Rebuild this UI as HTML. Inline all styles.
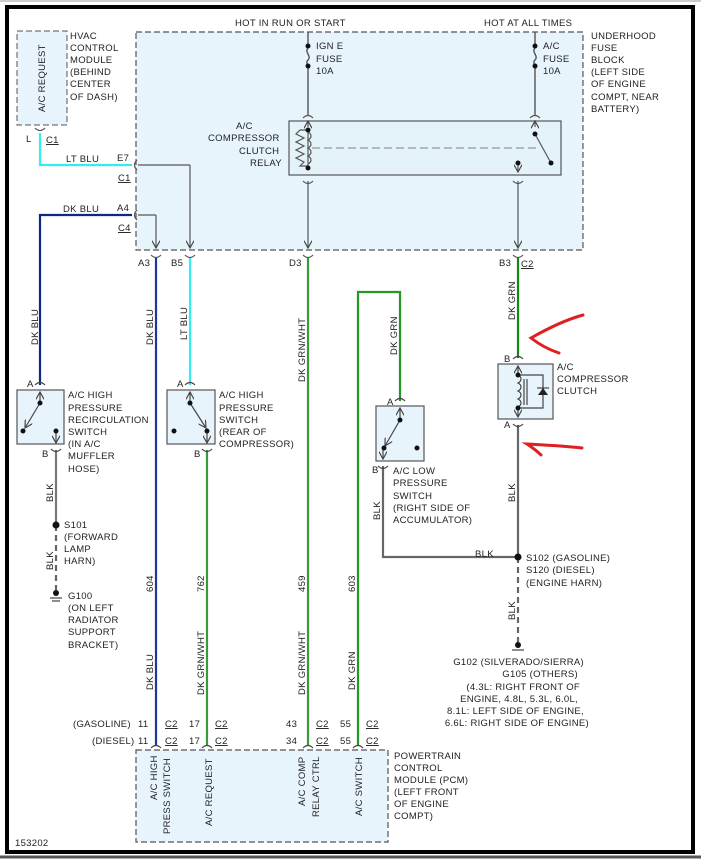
<!DOCTYPE html>
<html><head><meta charset="utf-8"><style>
html,body{margin:0;padding:0;background:#fff}
svg{display:block}
text{font-family:"Liberation Sans",sans-serif;font-size:9.5px;fill:#222;letter-spacing:0.3px}
</style></head><body>
<svg width="701" height="859" viewBox="0 0 701 859" xmlns="http://www.w3.org/2000/svg">
<defs>
<marker id="ar" viewBox="0 0 10 10" refX="9" refY="5" markerWidth="7" markerHeight="7" orient="auto"><path d="M0,0 L9,5 L0,10" fill="none" stroke="#444" stroke-width="1.4"/></marker>
</defs>
<line x1="0" y1="1" x2="701" y2="1" stroke="#ccc" stroke-width="2"/>
<rect x="7" y="7" width="686" height="845" fill="#fff" stroke="#000" stroke-width="4"/>
<line x1="0" y1="857" x2="701" y2="857" stroke="#555" stroke-width="3"/>

<!-- HVAC -->
<rect x="17" y="31" width="50" height="94" fill="#e8f4fb" stroke="#555" stroke-dasharray="6,3"/>
<text transform="translate(45,112) rotate(-90)">A/C REQUEST</text>
<text x="70" y="39">HVAC</text><text x="70" y="51">CONTROL</text><text x="70" y="63">MODULE</text><text x="70" y="75">(BEHIND</text><text x="70" y="87">CENTER</text><text x="70" y="100">OF DASH)</text>
<text x="26" y="142">L</text><text x="46" y="143" text-decoration="underline">C1</text>
<path d="M35,128 q5,5 10,0" fill="none" stroke="#444"/>

<!-- Fuse block -->
<rect x="136" y="32" width="447" height="218" fill="#e8f4fb" stroke="#555" stroke-width="1.2" stroke-dasharray="6,3"/>
<text x="235" y="26">HOT IN RUN OR START</text>
<text x="484" y="26">HOT AT ALL TIMES</text>
<text x="591" y="39">UNDERHOOD</text><text x="591" y="51">FUSE</text><text x="591" y="63">BLOCK</text><text x="591" y="75">(LEFT SIDE</text><text x="591" y="87">OF ENGINE</text><text x="591" y="100">COMPT, NEAR</text><text x="591" y="112">BATTERY)</text>
<!-- fuses -->
<g stroke="#555" stroke-width="1.4" fill="none">
<line x1="308" y1="32" x2="308" y2="45"/><path d="M308,48 c-4,4 4,8 0,12 c-4,4 4,8 0,8"/><line x1="308" y1="67" x2="308" y2="116"/>
<line x1="535" y1="32" x2="535" y2="45"/><path d="M535,48 c-4,4 4,8 0,12 c-4,4 4,8 0,8"/><line x1="535" y1="67" x2="535" y2="116"/>
</g>
<circle cx="308" cy="46" r="2.5" fill="#111"/><circle cx="308" cy="66" r="2.5" fill="#111"/>
<circle cx="535" cy="46" r="2.5" fill="#111"/><circle cx="535" cy="66" r="2.5" fill="#111"/>
<text x="316" y="49">IGN E</text><text x="316" y="62">FUSE</text><text x="316" y="74">10A</text>
<text x="543" y="49">A/C</text><text x="543" y="62">FUSE</text><text x="543" y="74">10A</text>
<!-- relay -->
<rect x="289" y="121" width="272" height="54" fill="#e4f2fa" stroke="#555" stroke-width="1.2"/>
<text x="236" y="129" text-anchor="start">A/C</text>
<text x="208" y="141">COMPRESSOR</text><text x="239" y="154">CLUTCH</text><text x="250" y="166">RELAY</text>
<g stroke="#555" stroke-width="1.2" fill="none">
<path d="M303,118 q5,-5 10,0"/><path d="M303,181 q5,5 10,0"/>
<path d="M530,118 q5,-5 10,0"/><path d="M513,181 q5,5 10,0"/>
<line x1="308" y1="130" x2="308" y2="168"/>
<path d="M308,130 h-8 l-4,4 l8,4 l-8,4 l8,4 l-8,4 l8,4 l-8,4 l8,4 l-4,4 h8"/>
<path d="M308,132 c4,2 4,6 0,8 c4,2 4,6 0,8 c4,2 4,6 0,8 c4,2 4,6 0,8"/>
<line x1="312" y1="148" x2="540" y2="148" stroke-dasharray="8,4" stroke="#999"/>
<line x1="535" y1="134" x2="551" y2="163"/>
<line x1="308" y1="181" x2="308" y2="248" marker-end="url(#ar)"/>
<line x1="518" y1="181" x2="518" y2="248" marker-end="url(#ar)"/>
<line x1="518" y1="165" x2="518" y2="172" marker-end="url(#ar)"/>
<line x1="308" y1="127" x2="308" y2="121" marker-end="url(#ar)"/>
<line x1="535" y1="127" x2="535" y2="121" marker-end="url(#ar)"/>
</g>
<circle cx="308" cy="130" r="2.5" fill="#111"/><circle cx="308" cy="168" r="2.5" fill="#111"/>
<circle cx="535" cy="134" r="2.5" fill="#111"/><circle cx="551" cy="163" r="2.5" fill="#111"/><circle cx="518" cy="163" r="2.5" fill="#111"/>
<!-- internal connectors -->
<g stroke="#555" stroke-width="1.2" fill="none">
<line x1="138" y1="165" x2="190" y2="165"/><line x1="190" y1="165" x2="190" y2="248" marker-end="url(#ar)"/>
<line x1="138" y1="215" x2="156" y2="215"/><line x1="156" y1="215" x2="156" y2="248" marker-end="url(#ar)"/>
<path d="M137,160 q-5,5 0,10"/><path d="M137,210 q-5,5 0,10"/>
<path d="M151,255 q5,5 10,0"/><path d="M185,255 q5,5 10,0"/><path d="M303,255 q5,5 10,0"/><path d="M513,255 q5,5 10,0"/>
</g>
<text x="117" y="161">E7</text><text x="118" y="181" text-decoration="underline">C1</text>
<text x="117" y="211">A4</text><text x="118" y="231" text-decoration="underline">C4</text>
<text x="66" y="162">LT BLU</text><text x="63" y="212">DK BLU</text>
<text x="138" y="266">A3</text><text x="171" y="266">B5</text><text x="289" y="266">D3</text><text x="499" y="266">B3</text><text x="521" y="267" text-decoration="underline">C2</text>

<!-- wires -->
<g fill="none" stroke-width="2.2">
<path d="M40,133 V165 H132" stroke="#33eeee"/>
<path d="M40,385 V215 H132" stroke="#0a2a88"/>
<line x1="156" y1="258" x2="156" y2="745" stroke="#1a3a9a"/>
<line x1="190" y1="258" x2="190" y2="385" stroke="#33eeee"/>
<line x1="207" y1="450" x2="207" y2="745" stroke="#3a9a3a"/>
<line x1="308" y1="258" x2="308" y2="745" stroke="#3a9a3a"/>
<path d="M358,745 V292 H400 V401" stroke="#229922"/>
<line x1="518" y1="258" x2="518" y2="358" stroke="#118811"/>
<path d="M56,450 V525" stroke="#777"/>
<path d="M383,466 V557 H518" stroke="#666"/>
<path d="M518,425 V557" stroke="#666"/>
<path d="M56,525 V590" stroke="#666" stroke-dasharray="6,4"/>
<path d="M518,557 V645" stroke="#666" stroke-dasharray="6,4"/>
</g>
<g font-size="9">
<text transform="translate(38,345) rotate(-90)">DK BLU</text>
<text transform="translate(153,345) rotate(-90)">DK BLU</text>
<text transform="translate(187,340) rotate(-90)">LT BLU</text>
<text transform="translate(305,382) rotate(-90)">DK GRN/WHT</text>
<text transform="translate(397,355) rotate(-90)">DK GRN</text>
<text transform="translate(515,320) rotate(-90)">DK GRN</text>
<text transform="translate(53,502) rotate(-90)">BLK</text>
<text transform="translate(53,570) rotate(-90)">BLK</text>
<text transform="translate(380,520) rotate(-90)">BLK</text>
<text transform="translate(515,502) rotate(-90)">BLK</text>
<text transform="translate(515,620) rotate(-90)">BLK</text>
<text transform="translate(153,592) rotate(-90)">604</text>
<text transform="translate(204,592) rotate(-90)">762</text>
<text transform="translate(305,592) rotate(-90)">459</text>
<text transform="translate(355,592) rotate(-90)">603</text>
<text transform="translate(153,690) rotate(-90)">DK BLU</text>
<text transform="translate(204,695) rotate(-90)">DK GRN/WHT</text>
<text transform="translate(305,695) rotate(-90)">DK GRN/WHT</text>
<text transform="translate(355,690) rotate(-90)">DK GRN</text>
</g>
<text x="475" y="557">BLK</text>

<!-- switch boxes -->
<g stroke="#555" stroke-width="1.2">
<rect x="17" y="390" width="47" height="54" fill="#e8f4fb"/>
<rect x="167" y="390" width="48" height="54" fill="#e8f4fb"/>
<rect x="376" y="406" width="48" height="55" fill="#e8f4fb"/>
<rect x="498" y="364" width="55" height="55" fill="#e8f4fb"/>
</g>
<g stroke="#444" stroke-width="1.2" fill="none">
<path d="M35,385 q5,-5 10,0"/><path d="M51,449 q5,5 10,0"/>
<path d="M185,385 q5,-5 10,0"/><path d="M202,449 q5,5 10,0"/>
<path d="M395,401 q5,-5 10,0"/><path d="M378,466 q5,5 10,0"/>
<path d="M513,359 q5,-5 10,0"/><path d="M513,424 q5,5 10,0"/>
<line x1="40" y1="403" x2="40" y2="392" marker-end="url(#ar)"/><line x1="40" y1="403" x2="25" y2="428" marker-end="url(#ar)"/>
<line x1="56" y1="431" x2="56" y2="443" marker-end="url(#ar)"/>
<line x1="190" y1="403" x2="190" y2="392" marker-end="url(#ar)"/><line x1="190" y1="403" x2="206" y2="428" marker-end="url(#ar)"/>
<line x1="207" y1="431" x2="207" y2="443" marker-end="url(#ar)"/>
<line x1="400" y1="420" x2="400" y2="408" marker-end="url(#ar)"/><line x1="400" y1="420" x2="385" y2="446" marker-end="url(#ar)"/>
<line x1="383" y1="448" x2="383" y2="459" marker-end="url(#ar)"/>
<line x1="518" y1="375" x2="518" y2="366" marker-end="url(#ar)"/><line x1="518" y1="408" x2="518" y2="417" marker-end="url(#ar)"/>
<path d="M518,375 c4,2 4,6 0,8 c4,2 4,6 0,8 c4,2 4,6 0,8 c4,2 4,6 0,8"/>
<line x1="524" y1="379" x2="524" y2="405"/><line x1="527" y1="379" x2="527" y2="405"/>
<path d="M518,375 H543 V408 H518"/>
</g>
<path d="M538,395 h10 l-5,-7 z" fill="#222"/><line x1="537" y1="388" x2="549" y2="388" stroke="#222"/>
<g fill="#111">
<circle cx="40" cy="403" r="2.5"/><circle cx="23" cy="431" r="2.5"/><circle cx="56" cy="431" r="2.5"/>
<circle cx="190" cy="403" r="2.5"/><circle cx="174" cy="431" r="2.5"/><circle cx="207" cy="431" r="2.5"/>
<circle cx="400" cy="420" r="2.5"/><circle cx="384" cy="448" r="2.5"/><circle cx="417" cy="448" r="2.5"/>
<circle cx="518" cy="375" r="2.5"/><circle cx="518" cy="408" r="2.5"/>
<circle cx="56" cy="525" r="3.5"/><circle cx="518" cy="557" r="3.5"/><circle cx="56" cy="593" r="3"/><circle cx="518" cy="645" r="3"/>
</g>
<g stroke="#444" stroke-width="1.2"><line x1="50" y1="598" x2="62" y2="598"/><line x1="52" y1="601" x2="60" y2="601"/><line x1="512" y1="650" x2="524" y2="650"/></g>
<text x="27" y="387">A</text><text x="42" y="457">B</text>
<text x="177" y="387">A</text><text x="194" y="457">B</text>
<text x="387" y="405">A</text><text x="372" y="473">B</text>
<text x="504" y="362">B</text><text x="504" y="428">A</text>
<text x="68" y="398">A/C HIGH</text><text x="68" y="411">PRESSURE</text><text x="68" y="423">RECIRCULATION</text><text x="68" y="435">SWITCH</text><text x="68" y="447">(IN A/C</text><text x="68" y="459">MUFFLER</text><text x="68" y="472">HOSE)</text>
<text x="219" y="398">A/C HIGH</text><text x="219" y="411">PRESSURE</text><text x="219" y="423">SWITCH</text><text x="219" y="435">(REAR OF</text><text x="219" y="447">COMPRESSOR)</text>
<text x="393" y="474">A/C LOW</text><text x="393" y="486">PRESSURE</text><text x="393" y="499">SWITCH</text><text x="393" y="511">(RIGHT SIDE OF</text><text x="393" y="523">ACCUMULATOR)</text>
<text x="557" y="370">A/C</text><text x="557" y="382">COMPRESSOR</text><text x="557" y="394">CLUTCH</text>
<text x="64" y="528">S101</text><text x="64" y="540">(FORWARD</text><text x="64" y="552">LAMP</text><text x="64" y="564">HARN)</text>
<text x="68" y="599">G100</text><text x="68" y="611">(ON LEFT</text><text x="68" y="623">RADIATOR</text><text x="68" y="635">SUPPORT</text><text x="68" y="648">BRACKET)</text>
<text x="526" y="561">S102 (GASOLINE)</text><text x="526" y="573">S120 (DIESEL)</text><text x="526" y="586">(ENGINE HARN)</text>
<g text-anchor="end"><text x="584" y="665">G102 (SILVERADO/SIERRA)</text><text x="578" y="677">G105 (OTHERS)</text><text x="580" y="690">(4.3L: RIGHT FRONT OF</text><text x="578" y="702">ENGINE, 4.8L, 5.3L, 6.0L,</text><text x="584" y="714">8.1L: LEFT SIDE OF ENGINE,</text><text x="589" y="726">6.6L: RIGHT SIDE OF ENGINE)</text></g>

<!-- red arrows -->
<g stroke="#e02020" stroke-width="3" fill="none" stroke-linecap="round">
<path d="M583,315 C565,320 545,330 531,338 C540,345 550,350 559,353"/>
<path d="M582,448 C565,446 545,445 527,444 C533,448 538,452 541,455"/>
</g>

<!-- PCM -->
<rect x="136" y="750" width="252" height="92" fill="#e8f4fb" stroke="#555" stroke-width="1.2" stroke-dasharray="6,3"/>
<g stroke="#444" stroke-width="1.2" fill="none">
<path d="M151,748 q5,-5 10,0"/><path d="M202,748 q5,-5 10,0"/><path d="M303,748 q5,-5 10,0"/><path d="M353,748 q5,-5 10,0"/>
</g>
<text x="73" y="727">(GASOLINE)</text><text x="138" y="727">11</text><text x="165" y="727" text-decoration="underline">C2</text><text x="189" y="727">17</text><text x="215" y="727" text-decoration="underline">C2</text><text x="286" y="727">43</text><text x="316" y="727" text-decoration="underline">C2</text><text x="340" y="727">55</text><text x="366" y="727" text-decoration="underline">C2</text>
<text x="92" y="744">(DIESEL)</text><text x="138" y="744">11</text><text x="165" y="744" text-decoration="underline">C2</text><text x="189" y="744">17</text><text x="215" y="744" text-decoration="underline">C2</text><text x="286" y="744">34</text><text x="316" y="744" text-decoration="underline">C2</text><text x="340" y="744">55</text><text x="366" y="744" text-decoration="underline">C2</text>
<text transform="translate(157,800) rotate(-90)">A/C HIGH</text><text transform="translate(170,834) rotate(-90)">PRESS SWITCH</text>
<text transform="translate(212,826) rotate(-90)">A/C REQUEST</text>
<text transform="translate(305,806) rotate(-90)">A/C COMP</text><text transform="translate(319,817) rotate(-90)">RELAY CTRL</text>
<text transform="translate(362,816) rotate(-90)">A/C SWITCH</text>
<text x="394" y="759">POWERTRAIN</text><text x="394" y="771">CONTROL</text><text x="394" y="783">MODULE (PCM)</text><text x="394" y="795">(LEFT FRONT</text><text x="394" y="807">OF ENGINE</text><text x="394" y="819">COMPT)</text>
<text x="15" y="846">153202</text>
</svg>
</body></html>
